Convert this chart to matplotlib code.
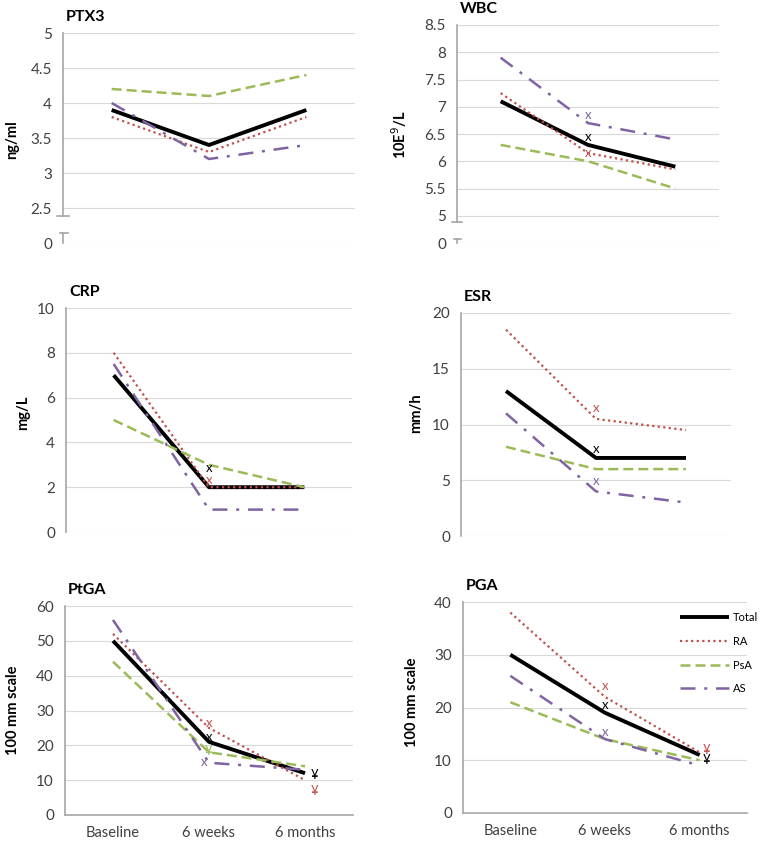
import matplotlib
matplotlib.use('Agg')
import matplotlib.pyplot as plt

plt.rcParams['font.family'] = ['Lato', 'DejaVu Sans']

W, H = 768, 843

# Datos
tiempos = ['Baseline', '6 weeks', '6 months']
grupos = ['Total', 'RA', 'PsA', 'AS']

ptx3_total = [3.9, 3.4, 3.9]
ptx3_ra = [3.8, 3.3, 3.8]
ptx3_psa = [4.2, 4.1, 4.4]
ptx3_as = [4.0, 3.2, 3.4]

wbc_total = [7.1, 6.3, 5.9]
wbc_ra = [7.25, 6.15, 5.85]
wbc_psa = [6.3, 6.0, 5.5]
wbc_as = [7.9, 6.7, 6.4]

crp_total = [7, 2, 2]
crp_ra = [8, 2, 2]
crp_psa = [5, 3, 2]
crp_as = [7.5, 1, 1]

esr_total = [13, 7, 7]
esr_ra = [18.5, 10.5, 9.5]
esr_psa = [8, 6, 6]
esr_as = [11, 4, 3]

ptga_total = [50, 21, 12]
ptga_ra = [52, 25, 10]
ptga_psa = [44, 18, 14]
ptga_as = [56, 15, 13]

pga_total = [30, 19, 11]
pga_ra = [38, 22, 11.5]
pga_psa = [21, 14, 10]
pga_as = [26, 14, 9]

# marcas de significancia: (posicion, valor, simbolo, grupo)
wbc_marcas = [(1, 6.85, 'x', 'AS'), (1, 6.45, 'x', 'Total'), (1, 6.15, 'x', 'RA')]
crp_marcas = [(1, 2.85, 'x', 'Total'), (1, 2.3, 'x', 'RA')]
esr_marcas = [(1, 11.5, 'x', 'RA'), (1, 7.8, 'x', 'Total'), (1, 4.9, 'x', 'AS')]
ptga_marcas = [(1, 26.5, 'x', 'RA'), (1, 22.5, 'x', 'Total'), (1, 18.3, '¥', 'PsA'),
               (0.95, 15.3, 'x', 'AS'), (2.1, 11.5, '¥', 'Total'), (2.1, 7.0, '¥', 'RA')]
pga_marcas = [(1, 24, 'x', 'RA'), (1, 20.5, 'x', 'Total'), (1, 15.3, 'x', 'AS'),
              (2.07, 12, '¥', 'RA'), (2.07, 10, '¥', 'Total')]

colores = {'Total': 'black', 'RA': '#C0504D', 'PsA': '#9BBB59', 'AS': '#8064A2'}
estilos = {'Total': dict(lw=2.8, ls='-'),
           'RA': dict(lw=1.6, ls=(0, (1, 1.5))),
           'PsA': dict(lw=1.8, ls=(0, (4, 2))),
           'AS': dict(lw=1.8, ls=(0, (6, 3.5, 1.2, 3.5)))}
grid_color = '#D9D9D9'
spine_color = '#A6A6A6'


def panel(px, titulo, series, ticks, labels, ylim, marcas, xlabels=False):
    # px = (left, top, right, bottom) en pixeles
    l, t, r, b = px
    ax = fig.add_axes([l / W, 1 - b / H, (r - l) / W, (b - t) / H])
    x = [0, 1, 2]
    for g, vals in zip(grupos, series):
        ax.plot(x, vals, color=colores[g], label=g, solid_capstyle='butt', **estilos[g])
    for xm, ym, s, g in marcas:
        ax.text(xm, ym, s, color=colores[g], ha='center', va='center', fontsize=9.5)
    ax.set_xlim(-0.5, 2.5)
    ax.set_ylim(*ylim)
    ax.set_yticks(ticks)
    ax.set_yticklabels(labels)
    for tk in ticks:
        ax.axhline(tk, color=grid_color, lw=0.8, zorder=0)
    for s in ['top', 'right', 'bottom']:
        ax.spines[s].set_visible(False)
    ax.spines['left'].set_color(spine_color)
    ax.spines['left'].set_linewidth(1.2)
    ax.tick_params(axis='y', length=0, pad=8, labelsize=11, colors='#404040')
    if xlabels:
        ax.spines['bottom'].set_visible(True)
        ax.spines['bottom'].set_color(spine_color)
        ax.spines['bottom'].set_linewidth(1.2)
        ax.set_xticks(x)
        ax.set_xticklabels(tiempos)
        ax.tick_params(axis='x', length=0, pad=8, labelsize=10.5, colors='#404040')
    else:
        ax.set_xticks([])
    fig.text((l + 3) / W, 1 - (t - 16) / H, titulo, fontsize=11.5, fontweight='bold',
             ha='left', va='center')
    return ax


def corte(ax, y_arriba, y_abajo, yfin):
    # corte del eje (eje y roto)
    ax.spines['left'].set_bounds(y_arriba, ax.get_ylim()[1])
    ax.plot([-0.5, -0.5], [yfin, y_abajo], color=spine_color, lw=1.2, clip_on=False)
    ax.plot([-0.5 - 0.06, -0.5 + 0.06], [y_arriba, y_arriba], color=spine_color, lw=1.2, clip_on=False)
    ax.plot([-0.5 - 0.035, -0.5 + 0.05], [y_abajo, y_abajo], color=spine_color, lw=1.2, clip_on=False)


fig = plt.figure(figsize=(W / 100, H / 100), dpi=100)

# PTX3
ax = panel((63, 33, 355, 243), 'PTX3', [ptx3_total, ptx3_ra, ptx3_psa, ptx3_as],
           [2.0, 2.5, 3, 3.5, 4, 4.5, 5], ['0', '2.5', '3', '3.5', '4', '4.5', '5'], (2.0, 5.0), [])
corte(ax, 2.386, 2.143, 2.0)
fig.text(12 / W, 1 - 140 / H, 'ng/ml', rotation=90, fontsize=10.5, fontweight='bold', ha='center', va='center')

# WBC
ax = panel((457, 25, 719, 243), 'WBC', [wbc_total, wbc_ra, wbc_psa, wbc_as],
           [4.5, 5, 5.5, 6, 6.5, 7, 7.5, 8, 8.5], ['0', '5', '5.5', '6', '6.5', '7', '7.5', '8', '8.5'],
           (4.5, 8.5), wbc_marcas)
corte(ax, 4.89, 4.57, 4.5)
fig.text(399 / W, 1 - 135 / H, '10E$^{9}$/L', rotation=90, fontsize=10.5, fontweight='bold', ha='center', va='center')

# CRP
ax = panel((66, 308, 352, 532), 'CRP', [crp_total, crp_ra, crp_psa, crp_as],
           [0, 2, 4, 6, 8, 10], ['0', '2', '4', '6', '8', '10'], (0, 10), crp_marcas)
fig.text(23 / W, 1 - 413 / H, 'mg/L', rotation=90, fontsize=10.5, fontweight='bold', ha='center', va='center')

# ESR
ax = panel((461, 313, 731, 536), 'ESR', [esr_total, esr_ra, esr_psa, esr_as],
           [0, 5, 10, 15, 20], ['0', '5', '10', '15', '20'], (0, 20), esr_marcas)
fig.text(416 / W, 1 - 413 / H, 'mm/h', rotation=90, fontsize=10.5, fontweight='bold', ha='center', va='center')

# PtGA
ax = panel((65, 606, 353, 815), 'PtGA', [ptga_total, ptga_ra, ptga_psa, ptga_as],
           [0, 10, 20, 30, 40, 50, 60], ['0', '10', '20', '30', '40', '50', '60'], (0, 60),
           ptga_marcas, xlabels=True)
fig.text(13 / W, 1 - 710 / H, '100 mm scale', rotation=90, fontsize=10.5, fontweight='bold', ha='center', va='center')

# PGA
ax = panel((463, 602, 747, 813), 'PGA', [pga_total, pga_ra, pga_psa, pga_as],
           [0, 10, 20, 30, 40], ['0', '10', '20', '30', '40'], (0, 40),
           pga_marcas, xlabels=True)
fig.text(412 / W, 1 - 702 / H, '100 mm scale', rotation=90, fontsize=10.5, fontweight='bold', ha='center', va='center')
ax.legend(loc='upper left', bbox_to_anchor=(680 / W, 1 - 612 / H), bbox_transform=fig.transFigure,
          frameon=False, fontsize=8, handlelength=4.4, labelspacing=1.15, handletextpad=0.4,
          borderpad=0, borderaxespad=0)

fig.savefig('out.png', dpi=100)
